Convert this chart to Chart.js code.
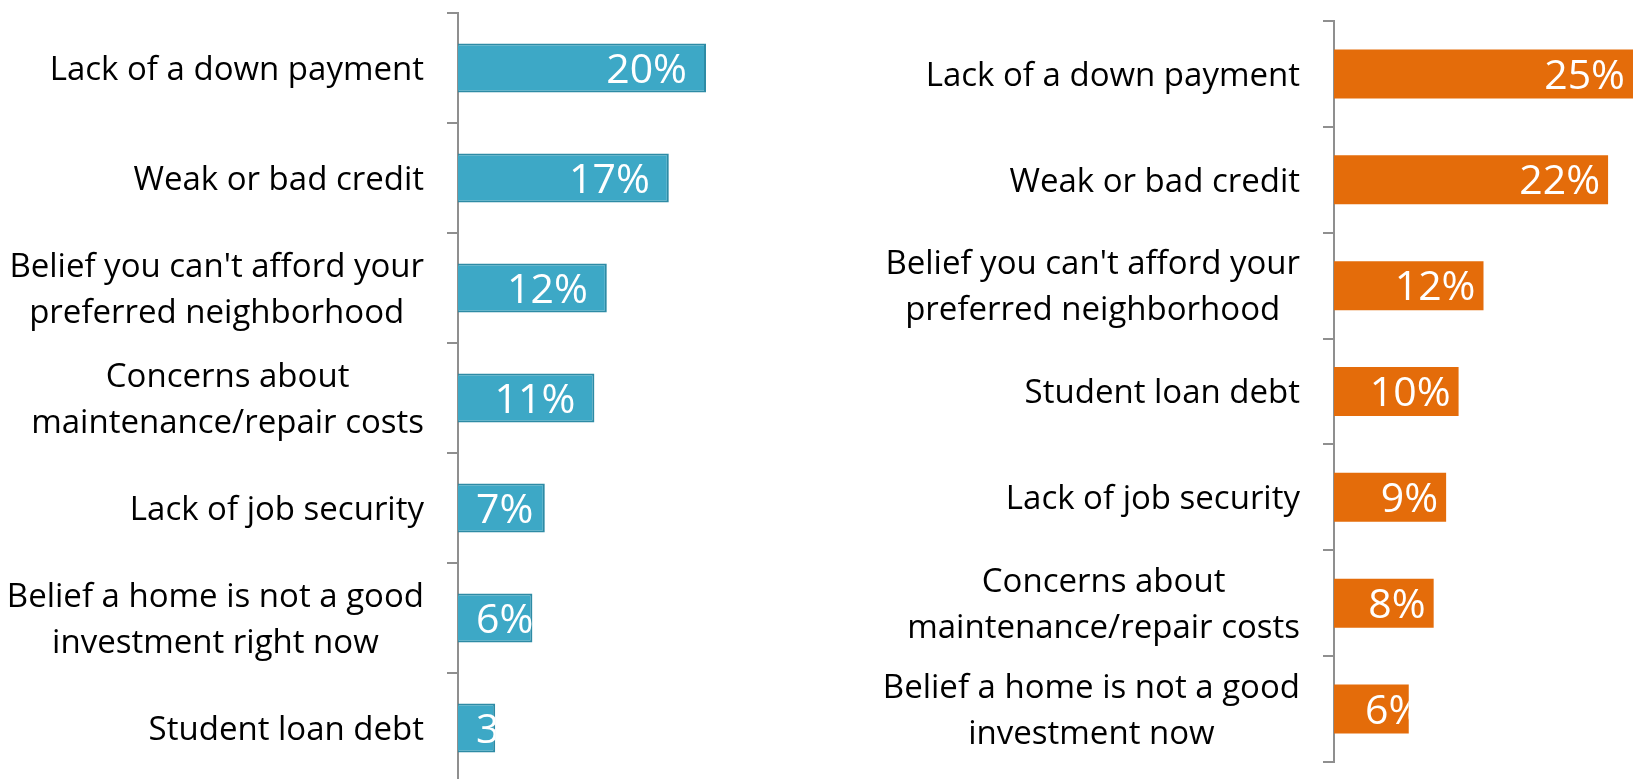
<!DOCTYPE html>
<html>
<head>
<meta charset="utf-8">
<title>Barriers to buying a home</title>
<script src="https://cdn.jsdelivr.net/npm/chart.js@4.4.1/dist/chart.umd.min.js"></script>
<style>
    html, body { margin: 0; padding: 0; background: #fff; overflow: hidden; }
    body { width: 1633px; height: 779px; position: relative; }
    canvas { position: absolute; top: 0; }
    #left-chart { left: 0; }
    #right-chart { left: 840px; }
</style>
</head>
<body>
<canvas id="left-chart" width="830" height="790"></canvas>
<canvas id="right-chart" width="793" height="779"></canvas>
<script>
// Left panel
const leftLabels = [
    'Lack of a down payment',
    'Weak or bad credit',
    ["Belief you can't afford your", 'preferred neighborhood'],
    ['Concerns about', 'maintenance/repair costs'],
    'Lack of job security',
    ['Belief a home is not a good', 'investment right now'],
    'Student loan debt'
];
const leftValues = [20, 17, 12, 11, 7, 6, 3];

// Right panel
const rightLabels = [
    'Lack of a down payment',
    'Weak or bad credit',
    ["Belief you can't afford your", 'preferred neighborhood'],
    'Student loan debt',
    'Lack of job security',
    ['Concerns about', 'maintenance/repair costs'],
    ['Belief a home is not a good', 'investment now']
];
const rightValues = [25, 22, 12, 10, 9, 8, 6];

const FONT = '"Open Sans", "Noto Sans", sans-serif';
const AXIS_GREY = '#8f8f8f';

/**
 * Category labels: each block right-aligned against the axis,
 * lines inside a block centred on each other.
 */
const categoryLabels = {
    id: 'categoryLabels',
    afterDraw(chart, args, opts) {
        const { ctx, chartArea } = chart;
        const yScale = chart.scales.y;
        ctx.save();
        ctx.font = `${opts.size}px ${FONT}`;
        ctx.fillStyle = opts.color;
        ctx.textAlign = 'center';
        ctx.textBaseline = 'alphabetic';
        const right = chartArea.left - opts.gap;
        chart.data.labels.forEach((label, i) => {
            const lines = Array.isArray(label) ? label : [label];
            const widest = Math.max(...lines.map(l => ctx.measureText(l).width));
            const cx = right - widest / 2;
            const cy = yScale.getPixelForValue(i);
            lines.forEach((line, j) => {
                const ly = cy + (j - (lines.length - 1) / 2) * opts.lineHeight;
                ctx.fillText(line, cx, ly + opts.size * 0.357);
            });
        });
        ctx.restore();
    }
};

/**
 * Value labels inside the bar end, clipped to the bar
 */
const valueLabels = {
    id: 'valueLabels',
    afterDatasetsDraw(chart, args, opts) {
        const { ctx, chartArea } = chart;
        const meta = chart.getDatasetMeta(0);
        const values = chart.data.datasets[0].data;
        ctx.save();
        ctx.font = `${opts.size}px ${FONT}`;
        ctx.fillStyle = '#ffffff';
        ctx.textAlign = 'left';
        ctx.textBaseline = 'alphabetic';
        meta.data.forEach((bar, i) => {
            const text = values[i] + '%';
            const w = ctx.measureText(text).width;
            const end = Math.min(bar.x, chartArea.right);
            const half = bar.height / 2;
            let x = end - opts.pad - w;
            if (x < bar.base + opts.minStart) x = bar.base + opts.minStart;
            ctx.save();
            ctx.beginPath();
            ctx.rect(bar.base, bar.y - half, end - bar.base, bar.height);
            ctx.clip();
            ctx.fillText(text, x, bar.y + opts.size * 0.357);
            ctx.restore();
        });
        ctx.restore();
    }
};

function buildChart(canvasId, labels, values, cfg) {
    const ctx = document.getElementById(canvasId).getContext('2d');
    return new Chart(ctx, {
        type: 'bar',
        data: {
            labels: labels,
            datasets: [{
                data: values,
                backgroundColor: cfg.fill,
                borderColor: cfg.border,
                borderWidth: cfg.borderWidth,
                borderSkipped: 'left',
                barPercentage: 1,
                categoryPercentage: cfg.barShare,
                clip: 0
            }]
        },
        options: {
            indexAxis: 'y',
            responsive: false,
            animation: false,
            layout: { padding: { top: cfg.top, bottom: cfg.bottom, left: 0, right: 0 } },
            plugins: {
                legend: { display: false },
                tooltip: { enabled: false },
                categoryLabels: { size: 33, lineHeight: 46, gap: 34, color: '#000000' },
                valueLabels: { size: 41, pad: cfg.labelPad, minStart: cfg.labelStart }
            },
            scales: {
                x: {
                    display: false,
                    min: 0,
                    max: cfg.max
                },
                y: {
                    afterFit(scale) { scale.width = cfg.axisWidth; },
                    grid: {
                        drawOnChartArea: false,
                        drawTicks: true,
                        tickLength: 11,
                        color: AXIS_GREY,
                        lineWidth: 2
                    },
                    border: { display: true, color: AXIS_GREY, width: 2 },
                    ticks: { display: false }
                }
            }
        },
        plugins: [categoryLabels, valueLabels]
    });
}

buildChart('left-chart', leftLabels, leftValues, {
    fill: '#3da8c6',
    border: '#2d8ba5',
    borderWidth: 2,
    barShare: 0.445,
    top: 13,
    bottom: 7,
    axisWidth: 458,
    max: 30,
    labelPad: 19,
    labelStart: 18
});

buildChart('right-chart', rightLabels, rightValues, {
    fill: '#e46c0a',
    border: '#e46c0a',
    borderWidth: 0,
    barShare: 0.463,
    top: 21,
    bottom: 17,
    axisWidth: 494,
    max: 24,
    labelPad: 8,
    labelStart: 31
});
</script>
</body>
</html>
